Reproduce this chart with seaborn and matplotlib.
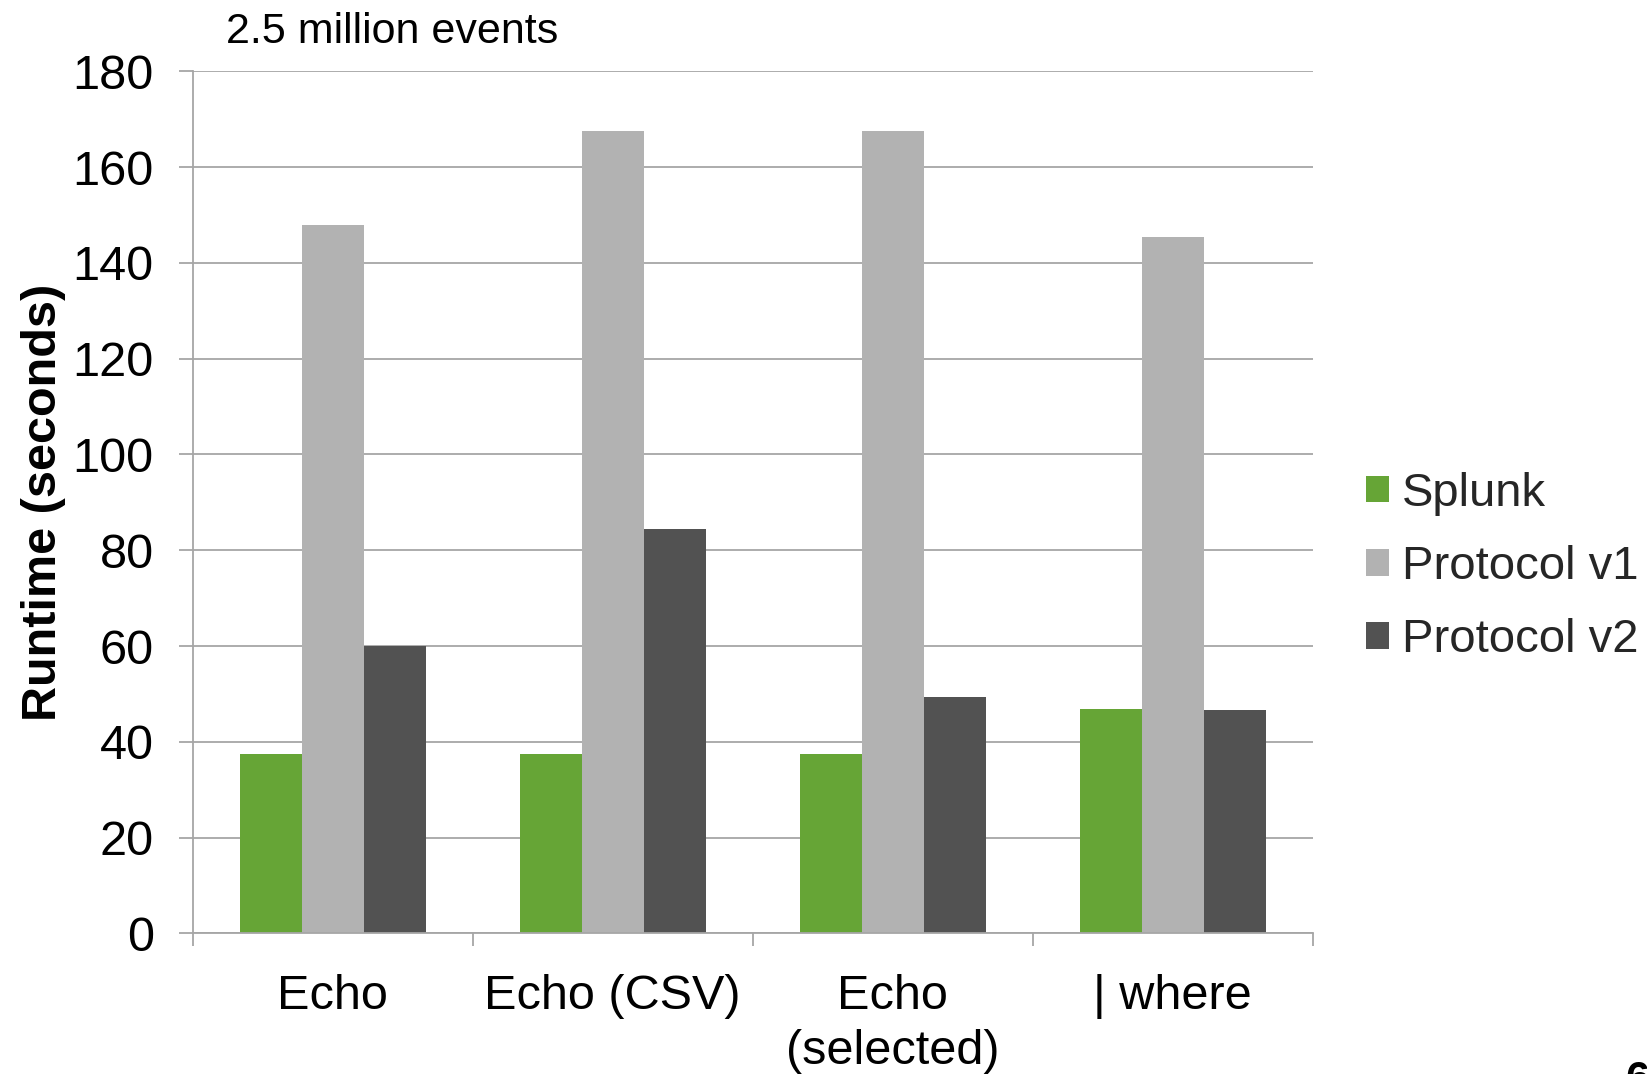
import pandas as pd
import numpy as np
import matplotlib
matplotlib.use("Agg")
import matplotlib.pyplot as plt
import seaborn as sns

# Données
categories = ["Echo", "Echo (CSV)", "Echo\n(selected)", "| where"]
series = ["Splunk", "Protocol v1", "Protocol v2"]
splunk = [37.5, 37.5, 37.5, 46.8]
protocol_v1 = [148, 167.5, 167.5, 145.5]
protocol_v2 = [60, 84.5, 49.4, 46.6]
couleurs = ["#66A536", "#B2B2B2", "#525252"]

df = pd.DataFrame({
    "categorie": categories * 3,
    "serie": [s for s in series for _ in categories],
    "runtime": splunk + protocol_v1 + protocol_v2,
})

sns.set_theme(style="white")
plt.rcParams["font.family"] = ["Liberation Sans", "DejaVu Sans"]

fig = plt.figure(figsize=(16.47, 10.74), dpi=100)
ax = fig.add_axes([0.117, 0.131, 0.680, 0.8025])

sns.barplot(data=df, x="categorie", y="runtime", hue="serie", palette=couleurs,
            width=0.664, saturation=1, linewidth=0, ax=ax, legend=True)

grille = "#A6A6A6"
ax.set_ylim(0, 180)
ax.set_xlim(-0.5, 3.5)
ax.set_yticks(np.arange(0, 181, 20))
ax.yaxis.grid(True, color=grille, linewidth=1.3)
ax.set_axisbelow(True)
for cote in ["top", "right"]:
    ax.spines[cote].set_visible(False)
for cote in ["left", "bottom"]:
    ax.spines[cote].set_color(grille)
    ax.spines[cote].set_linewidth(1.3)

ax.tick_params(axis="y", left=True, length=10, width=1.3, color=grille, labelsize=35, pad=18)
ax.tick_params(axis="x", which="major", bottom=True, length=0, labelsize=35, pad=29.5)
ax.set_xticks(np.arange(-0.5, 3.6, 1), minor=True)
ax.tick_params(axis="x", which="minor", bottom=True, length=9, width=1.3, color=grille)
for lab in ax.get_xticklabels() + ax.get_yticklabels():
    lab.set_color("black")
for lab in ax.get_xticklabels():
    lab.set_linespacing(1.27)
    lab.set_verticalalignment("top")

ax.set_xlabel("")
ax.set_ylabel("Runtime (seconds)", fontsize=35, fontweight="bold", color="black", labelpad=5)

fig.text(0.137, 0.970, "2.5 million events", fontsize=31, color="black", va="center")

ax.legend(loc="center left", bbox_to_anchor=(1.01, 0.425), frameon=False, fontsize=34,
          handlelength=0.49, handleheight=0.49, handletextpad=0.27, labelspacing=0.62)

fig.text(1625 / 1647, 1 - 1060 / 1074, "6", fontsize=31, fontweight="bold", va="top", color="black")

fig.savefig("out.png", dpi=100)
